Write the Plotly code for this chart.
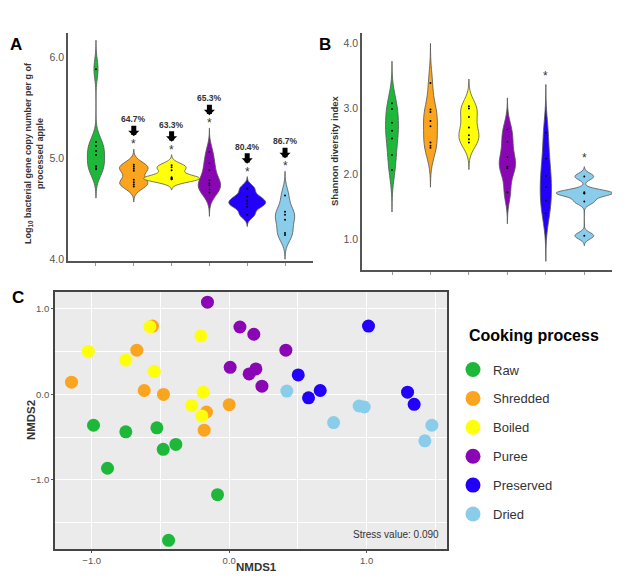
import numpy as np
import plotly.graph_objects as go

# ---------------- data ----------------
processes = ["Raw", "Shredded", "Boiled", "Puree", "Preserved", "Dried"]
colors = ["#1DB83A", "#FBA41E", "#FFFF0A", "#8A06B5", "#2200FA", "#89CDEB"]

# Panel A: log10 bacterial gene copy number per g of processed apple
loadA_raw = [5.88, 5.16, 5.12, 5.07, 5.03, 4.92, 4.89, 4.90]
loadA_shredded = [4.935, 4.915, 4.895, 4.875, 4.785, 4.76, 4.74, 4.72]
loadA_boiled = [4.93, 4.91, 4.88, 4.81, 4.80, 4.80, 4.79, 4.79]
loadA_puree = [5.06, 4.95, 4.88, 4.78, 4.75, 4.73, 4.69, 4.66]
loadA_preserved = [4.70, 4.62, 4.58, 4.55, 4.52, 4.44]
loadA_dried = [4.63, 4.47, 4.44, 4.39, 4.26, 4.24]
reduction_pct = ["", "64.7%", "63.3%", "65.3%", "80.4%", "86.7%"]

# Panel B: Shannon diversity index
shanB_raw = [3.08, 2.99, 2.78, 2.66, 2.54, 2.29, 2.06]
shanB_shredded = [3.39, 2.985, 2.944, 2.81, 2.73, 2.48, 2.43, 2.40]
shanB_boiled = [3.035, 3.00, 2.87, 2.71, 2.59, 2.53, 2.48]
shanB_puree = [2.68, 2.49, 2.26, 2.11, 2.085, 1.72]
shanB_preserved = [2.63, 2.23, 1.97, 1.80, 1.59, 1.40]
shanB_dried = [1.96, 1.72, 1.705, 1.70, 1.58, 1.055]
signifB = [False, False, False, False, True, True]

# Panel C: NMDS ordination
nmds1_raw = [-0.987, -0.752, -0.526, -0.48, -0.388, -0.885, -0.085, -0.441]
nmds2_raw = [-0.36, -0.437, -0.39, -0.642, -0.584, -0.863, -1.172, -1.706]
nmds1_shredded = [-1.147, -0.672, -0.558, -0.618, -0.478, -0.165, -0.182, 0.0]
nmds2_shredded = [0.143, 0.518, 0.80, 0.046, 0.0, -0.205, -0.418, -0.12]
nmds1_boiled = [-1.025, -0.752, -0.577, -0.545, -0.206, -0.189, -0.272, -0.199]
nmds2_boiled = [0.503, 0.402, 0.793, 0.271, 0.685, 0.027, -0.128, -0.251]
nmds1_puree = [-0.158, 0.078, 0.179, 0.412, 0.007, 0.145, 0.194, 0.238]
nmds2_puree = [1.079, 0.789, 0.704, 0.518, 0.317, 0.24, 0.298, 0.097]
nmds1_preserved = [1.013, 0.502, 0.577, 0.662, 1.297, 1.345]
nmds2_preserved = [0.80, 0.228, -0.039, 0.046, 0.027, -0.116]
nmds1_dried = [0.419, 0.945, 0.982, 0.759, 1.474, 1.423]
nmds2_dried = [0.039, -0.135, -0.147, -0.329, -0.36, -0.542]
stress_value = 0.090

groupsA = [loadA_raw, loadA_shredded, loadA_boiled, loadA_puree, loadA_preserved, loadA_dried]
groupsB = [shanB_raw, shanB_shredded, shanB_boiled, shanB_puree, shanB_preserved, shanB_dried]
nmds1 = [nmds1_raw, nmds1_shredded, nmds1_boiled, nmds1_puree, nmds1_preserved, nmds1_dried]
nmds2 = [nmds2_raw, nmds2_shredded, nmds2_boiled, nmds2_puree, nmds2_preserved, nmds2_dried]

W, H = 640, 588
FONT = "Liberation Sans, Arial, sans-serif"


def nrd0(v):
    v = np.asarray(v, float)
    sd = v.std(ddof=1)
    q75, q25 = np.percentile(v, [75, 25])
    lo = min(sd, (q75 - q25) / 1.34)
    if lo == 0:
        lo = sd or abs(v[0]) or 1.0
    return 0.9 * lo * len(v) ** -0.2


def kde_peak(v, bw):
    v = np.asarray(v, float)
    grid = np.linspace(v.min() - 3 * bw, v.max() + 3 * bw, 3000)
    d = np.exp(-0.5 * ((grid[:, None] - v[None, :]) / bw) ** 2).sum(1)
    return d.max() / (len(v) * bw * np.sqrt(2 * np.pi))


fig = go.Figure()
spans = {}


def add_violins(groups, xa, ya, max_width, tag):
    bws = [nrd0(g) for g in groups]
    peaks = [kde_peak(g, b) for g, b in zip(groups, bws)]
    pmax = max(peaks)
    tops = []
    for i, (g, b, p) in enumerate(zip(groups, bws, peaks)):
        lo, hi = min(g) - 3 * b, max(g) + 3 * b
        tops.append(hi)
        fig.add_trace(go.Violin(
            x=[processes[i]] * len(g), y=g, xaxis=xa, yaxis=ya,
            bandwidth=b, spanmode="manual", span=[lo, hi],
            width=max_width * p / pmax, scalegroup=f"{tag}{i}", scalemode="width",
            fillcolor=colors[i], line=dict(color="#555555", width=0.8),
            points="all", pointpos=0, jitter=0,
            marker=dict(size=2, color="black"),
            box_visible=False, meanline_visible=False,
            showlegend=False, hoverinfo="skip", name=processes[i]))
    spans[tag] = tops


add_violins(groupsA, "x", "y", 1.48, "A")
add_violins(groupsB, "x2", "y2", 1.45, "B")

# NMDS scatter
for i, p in enumerate(processes):
    fig.add_trace(go.Scatter(
        x=nmds1[i], y=nmds2[i], mode="markers", xaxis="x3", yaxis="y3",
        marker=dict(size=13, color=colors[i], line=dict(width=0)),
        showlegend=False, hoverinfo="skip", name=p))
# legend entries
for i, p in enumerate(processes):
    fig.add_trace(go.Scatter(
        x=[None], y=[None], mode="markers", xaxis="x3", yaxis="y3",
        marker=dict(size=15, color=colors[i]), name=p, legendgroup=p,
        showlegend=True))

annotations = []
# A annotations: stars, block arrows with percentage labels
for i in range(1, 6):
    top = spans["A"][i]
    annotations.append(dict(x=processes[i], y=top, xref="x", yref="y", text="*",
                            showarrow=False, yshift=5, font=dict(size=12, color="#333")))
    annotations.append(dict(x=processes[i], y=top, xref="x", yref="y",
                            text=f"<b>{reduction_pct[i]}</b>",
                            showarrow=True, yshift=13, ax=0, ay=-17,
                            arrowhead=1, arrowsize=0.37, arrowwidth=5,
                            arrowcolor="black", standoff=0, startstandoff=0,
                            font=dict(size=8.5, color="#333")))
for i in range(6):
    if signifB[i]:
        annotations.append(dict(x=processes[i], y=spans["B"][i], xref="x2", yref="y2",
                                text="*", showarrow=False, yshift=9,
                                font=dict(size=12, color="#333")))


def px(x):
    return x / W


def py(y):
    return 1 - y / H


def note(x, y, text, size, color="#333", angle=0, xanchor="center"):
    return dict(x=px(x), y=py(y), xref="paper", yref="paper", text=text,
                showarrow=False, textangle=angle, xanchor=xanchor, yanchor="middle",
                font=dict(size=size, color=color))


annotations += [
    note(16, 45, "<b>A</b>", 17, "black"),
    note(325, 45, "<b>B</b>", 17, "black"),
    note(18, 300, "<b>C</b>", 17, "black"),
    note(34, 154, "<b>Log<sub>10</sub> bacterial gene copy number per g of<br>processed apple</b>",
         9.0, angle=-90),
    note(335, 152, "<b>Shannon diversity index</b>", 9.5, angle=-90),
    note(256, 571, "<b>NMDS1</b>", 11.5),
    note(31, 423, "<b>NMDS2</b>", 11.5, angle=-90),
    note(441, 538, f"Stress value: {stress_value:.3f}", 10, xanchor="right"),
    note(467, 338, "<b>Cooking process</b>", 16, "black", xanchor="left"),
]

axis_line = dict(showline=True, linecolor="#555555", linewidth=1.6, showgrid=False,
                 zeroline=False, fixedrange=True)
tickfont = dict(size=10.5, color="#555555")

fig.update_layout(
    width=W, height=H, autosize=False,
    margin=dict(l=0, r=0, t=0, b=0),
    paper_bgcolor="white", plot_bgcolor="white",
    font=dict(family=FONT, color="#333"),
    violinmode="overlay",
    xaxis=dict(domain=[px(68), px(313)], anchor="y", type="category",
               categoryorder="array", categoryarray=processes, range=[-0.74, 5.74],
               showticklabels=False, ticks="outside", ticklen=3, tickcolor="#999",
               **axis_line),
    yaxis=dict(domain=[py(263), py(33)], anchor="x", range=[3.98, 6.24],
               tickvals=[4, 5, 6], tickformat=".1f", ticks="", tickfont=tickfont,
               **axis_line),
    xaxis2=dict(domain=[px(362), px(612)], anchor="y2", type="category",
                categoryorder="array", categoryarray=processes, range=[-0.78, 5.72],
                showticklabels=False, ticks="outside", ticklen=3, tickcolor="#999",
                **axis_line),
    yaxis2=dict(domain=[py(272), py(33)], anchor="x2", range=[0.53, 4.156],
                tickvals=[1, 2, 3, 4], tickformat=".1f", ticks="", tickfont=tickfont,
                **axis_line),
    xaxis3=dict(domain=[px(55), px(447)], anchor="y3", range=[-1.267, 1.584],
                tick0=0, dtick=1, tickformat=".1f", ticks="outside", ticklen=2,
                tickcolor="#555", tickfont=dict(size=9.5, color="#555"),
                showgrid=True, gridcolor="white", gridwidth=1.1, zeroline=False,
                showline=True, mirror=True, linecolor="#444", linewidth=1.6,
                minor=dict(tick0=0, dtick=0.5, showgrid=True, gridcolor="white",
                           gridwidth=0.5), fixedrange=True),
    yaxis3=dict(domain=[py(553), py(294)], anchor="x3", range=[-1.81, 1.198],
                tick0=0, dtick=1, tickformat=".1f", ticks="outside", ticklen=2,
                tickcolor="#555", tickfont=dict(size=9.5, color="#555"),
                showgrid=True, gridcolor="white", gridwidth=1.1, zeroline=False,
                showline=True, mirror=True, linecolor="#444", linewidth=1.6,
                minor=dict(tick0=0, dtick=0.5, showgrid=True, gridcolor="white",
                           gridwidth=0.5), fixedrange=True),
    shapes=[dict(type="rect", xref="x3 domain", yref="y3 domain", x0=0, x1=1, y0=0, y1=1,
                 fillcolor="#EBEBEB", line=dict(width=0), layer="below")],
    legend=dict(x=px(453), y=py(357), xanchor="left", yanchor="top",
                font=dict(size=13, color="#333"), tracegroupgap=9,
                bgcolor="rgba(0,0,0,0)", itemsizing="trace"),
    annotations=annotations,
)

fig.write_html("out.html", config={"displayModeBar": False},
               post_script="document.body.style.margin='0px';document.body.style.overflow='hidden';")
